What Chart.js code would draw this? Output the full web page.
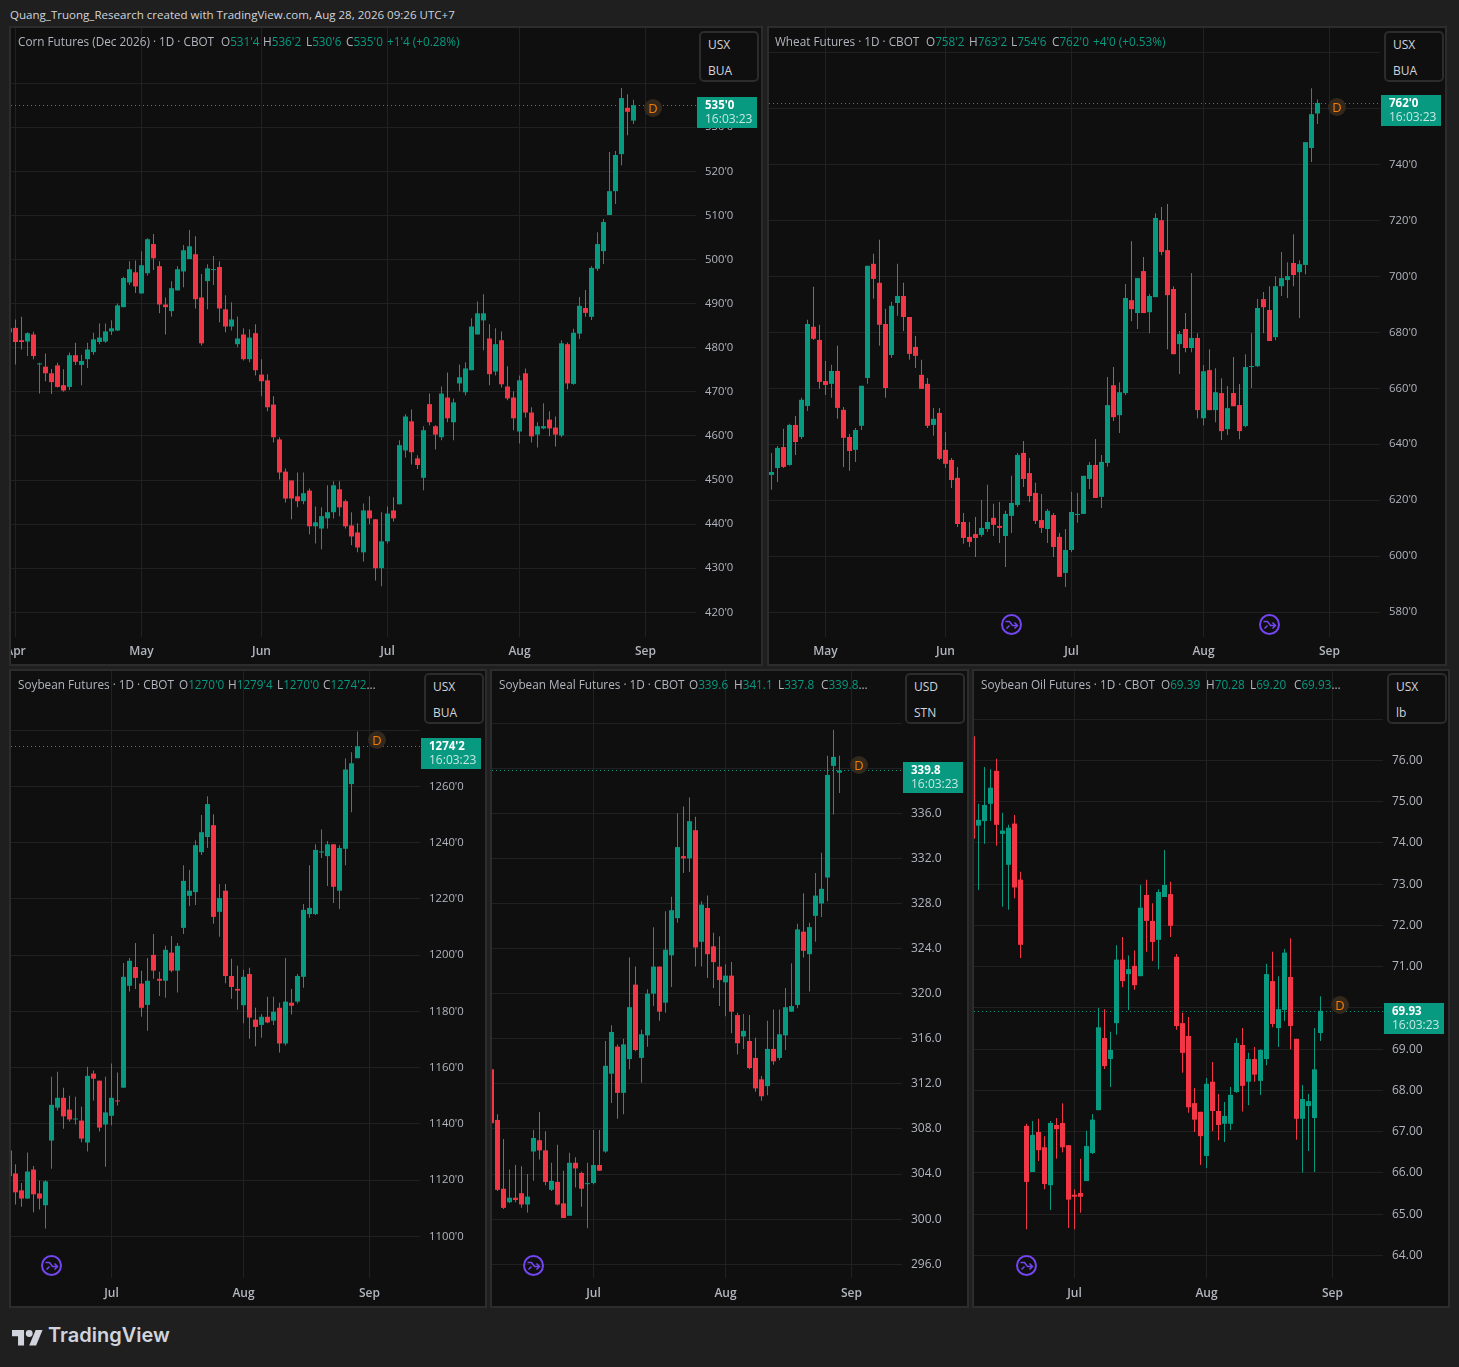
<!DOCTYPE html>
<html>
<head>
<meta charset="utf-8">
<title>Grain futures</title>
<script src="https://cdn.jsdelivr.net/npm/chart.js@4/dist/chart.umd.min.js"></script>
<style>
html, body { margin: 0; padding: 0; background: #1f1f1f; }
body { width: 1459px; height: 1367px; position: relative; overflow: hidden; font-family: "Open Sans", sans-serif; }
.head { position: absolute; left: 10px; top: 7px; font-size: 11.55px; color: #d1d4dc; white-space: nowrap; }
.panel { position: absolute; background: #0f0f0f; outline: 2px solid #2c2c2c; outline-offset: -1px; }
canvas { position: absolute; display: block; }
.legend { position: absolute; font-size: 11.75px; color: #b2b5be; white-space: nowrap; line-height: 14px; }
.legend b { font-weight: normal; color: #089981; }
.legend span { position: absolute; top: 0; }
.unit { position: absolute; box-sizing: border-box; border: 2px solid #2c2c2c; border-radius: 5px; background: #0f0f0f; color: #d1d4dc; font-size: 12px; }
.unit div { position: absolute; left: 7px; }
.logo { position: absolute; left: 12px; top: 1328px; }
.logotext { position: absolute; left: 48px; top: 1323px; font: 600 20px "Inter", sans-serif; color: #d1d4dc; }
</style>
</head>
<body>
<div class="head">Quang_Truong_Research created with TradingView.com, Aug 28, 2026 09:26 UTC+7</div>
<svg class="logo" width="31" height="18" viewBox="0 0 36 20" fill="#d1d4dc"><path d="M14 20H7V9H0V2h14v18zM28 20h-8l7.5-18h8L28 20z"/><circle cx="20" cy="6" r="4"/></svg>
<div class="logotext">TradingView</div>
<script>
// corn, index 0 is the candle clipped at the left edge
var cornOpen = [483.5,484.5,481.7,481.4,483,476.2,475.7,474.2,476,471.5,471.1,478.3,476.1,477.4,479,481.3,481.4,483.7,483.9,489.2,494.8,497.1,492.3,496.9,503.5,498.5,489.8,488.3,493,497.3,500.1,501.2,491.4,495.1,497.6,498.3,488.7,484.8,480.8,483,477.4,483.3,473.9,472.6,467.1,459.2,451.9,449.9,446.3,445.2,447.6,439.5,439,441.3,442.7,447.9,445.2,439.7,438.1,433.6,443.1,441.1,430,436.1,443.1,444.5,456.7,463.3,454.9,450.5,467.2,462.2,459.7,468.7,463.1,471.9,469.9,474.9,483,486.2,482.1,474.6,481.7,471.2,468.7,461,474.2,465.3,460.3,461.7,463.7,461.9,460.1,480.8,471.8,483.2,489,487,497.9,501.9,510.1,515.5,523.9,534.4,531.5];
var cornHigh = [484.6,486.4,487,483.5,483.6,476.6,478.7,475.2,476.6,475.1,478.9,481.1,478.4,481.1,483.4,485.5,485.5,486.2,490,496.1,499.6,499.8,501.9,504.8,505.8,499.6,491.4,495.1,498.5,503.3,506.7,505.3,496.7,498.9,500.8,499.6,491.9,490.3,487.1,484.4,484.2,485.3,477.4,474,469,459.7,452.6,449.9,451.7,451.7,448.1,444,443.8,448.8,449.7,449.7,445.6,442.7,440.2,444.7,446.3,441.1,442.7,444,446.1,459,464.9,466,455.6,462.2,469.6,462.4,471.2,474.4,468.5,476.2,476.7,486.7,490.5,492.1,485.3,484.4,483.7,475.8,470.1,473.7,475.3,466.5,463.1,467.4,465.6,464.4,481.7,481.2,484.3,491.5,493.1,498.5,506.2,509.2,524.4,524.6,538.9,537.5,536.25];
var cornLow = [483.3,476.2,479.6,478.1,477.4,469.6,472.4,469.5,471,470,470.4,476.1,471.5,475.4,478.4,480.8,481.1,482.9,483.8,489.2,494.2,492.4,492.3,496.4,497.6,487.8,483,487.1,493,493.7,500.1,488.9,480.5,488.7,494.2,485.8,483.5,483.9,480.1,477.1,476.7,473.7,469,465.6,458.5,450.1,444.9,441.1,443.8,444.5,437.7,435.6,434.3,439,441.3,441.8,439,435.2,433.6,431.5,440,427.2,425.9,435.6,440.6,444.5,455.1,453.5,452.5,447.7,462.4,456.9,459,463.1,459,470.1,469.2,474.9,483,479.4,471.5,473.7,471,468.1,461.3,458.3,464.2,458.5,457.4,461.5,459.9,457.6,459.7,470.6,471.6,482,487,486.3,497.4,499,510.1,512.6,521.4,528.2,530.75];
var cornClose = [484.4,481.3,481.3,483.3,478.1,476.3,474.2,472.2,471.1,470.3,478.3,476.8,477,479.6,481.9,482.3,483.7,484.4,489.6,495.8,497.8,493.9,498.7,504.6,500.3,489.8,489.2,493.5,497.8,502.1,503,491,481,498,497.8,488.9,484.8,486.4,482.1,477.4,482.3,474.9,472.4,466.5,459.7,451.7,445.8,445.8,445.2,447,439.5,440.4,441.8,442.7,448.8,443.8,439.5,437.2,434.7,443.1,441.3,430,436.1,442.4,441.3,457.9,464.4,456.3,453.4,461.3,463.1,460.3,469.6,464,467.6,473.3,475.3,484.8,487.8,487.8,474,480.8,471.7,468.5,464,472.6,465.3,459.9,462.2,462.2,461.7,460.3,481,471.9,483.4,489.5,487.9,498.1,503.5,508.5,515.5,523.7,536.6,533.5,535];
var cornMonthIdx = [1,22,42,63,85,106];
var cornMonths = ["Apr","May","Jun","Jul","Aug","Sep"];
var cornTicks = [420,430,440,450,460,470,480,490,500,510,520,530,540];
var cornTickLabels = ["420'0","430'0","440'0","450'0","460'0","470'0","480'0","490'0","500'0","510'0","520'0","530'0",""];

// wheat
var wheatOpen = [629,631.5,639,632.6,646.9,642.6,653.7,682,677.3,662.6,661.6,666.2,652.3,642.6,638,646.6,663.7,704.5,697.7,683,671.9,690.5,693,685.5,674.8,664.8,661.6,646.9,651.2,638,634.4,628,612.2,606.9,607.9,607.6,609.7,613.7,610.8,607.2,614.4,618.3,636.9,629.7,622.6,612.9,609.7,614.7,606.9,594,602.2,614.7,615.1,627.6,632.6,621.2,633.3,661.1,650.4,658.3,691.5,686.9,701.9,687.2,692.6,720.1,709.4,695.5,675.8,681.2,674.4,678,649.3,666.5,652.2,658.3,645.4,658.3,654,646.5,667.6,667.9,691.9,688,678.3,696.5,698.7,704.8,701.5,704.1,745.9,758.25];
var wheatHigh = [636.9,639.4,645.5,647.3,650.1,656.6,684.5,696.3,682.7,669.8,668.4,675.2,653.3,643.7,645.8,660.9,703.8,708.1,713.1,688.4,690.9,704.5,697.7,685.5,678.7,670.2,663.7,653,653,644.4,635.1,631.9,615.4,612.2,614,620.1,625.5,618.7,619.4,616.2,628.7,636.9,641.2,635.1,626.2,622.2,616.9,615.4,608.3,609.7,623,622.6,628.7,633.7,641.9,636.2,664,667.6,662.2,697.3,712.6,699.4,706.9,693.7,722.6,724.8,725.9,696.5,680.5,686.9,701.2,679.7,668.3,674,667.2,663.6,660.8,671.2,661.5,672.2,679.7,691.9,694.4,696.5,700.1,708.7,705.1,715.1,705.8,748,767.3,763.25];
var wheatLow = [623.7,626.5,631.5,632.3,636.2,641.9,651.9,677.3,659.8,657.6,656.6,649.1,631.9,630.5,633.7,645.1,661.6,692,675.2,656.6,670.9,685.9,680.5,670.2,667.3,659.8,645.8,643,634.4,631.5,624.4,610.4,604.4,603.3,599.7,606.9,608.7,607.2,604.7,596.1,608.3,617.6,624.7,619.4,611.5,608.3,604.7,599.7,592.6,589,601.5,611.9,615.1,624,620.8,617.2,632,648.3,644,657.6,684,681.2,686.9,679.7,692.6,707.6,674,672.2,665.1,672.9,672.9,649.3,646.8,652.2,647.9,641.5,643.3,653.6,641.8,646.1,660.1,667.6,679.7,676.9,677.2,693,692.3,696.5,685.1,700.8,740.9,754.5];
var wheatClose = [630.1,638.7,631.9,646.9,640.8,655.9,683,677.7,662.3,661.2,666.2,653,642.3,637.6,645.1,660.9,703.8,699.1,682.7,660.1,689.5,693,685.5,672.3,671.6,659.8,646.6,649.1,634.8,633,627.2,611.5,606.5,605.1,606.5,610.1,612.2,611.2,610.1,615.1,619,636.2,627.6,621.5,612.6,610.1,616.2,603.3,592.6,602.2,615.8,615.1,628.7,632.6,620.8,633.7,654,649.7,658.6,692.3,688.3,699.4,686.9,693,720.9,708.7,693.3,672.2,679.4,674.4,678,652.2,666.1,652.2,658.6,644.7,652.9,653.6,644.7,667.6,667.9,688.7,689,676.9,696.5,699.4,700.1,700.5,704.4,748,758,762];
var wheatMonthIdx = [9,29,50,72,93];
var wheatMonths = ["May","Jun","Jul","Aug","Sep"];
var wheatTicks = [580,600,620,640,660,680,700,720,740,760,780];
var wheatTickLabels = ["580'0","600'0","620'0","640'0","660'0","680'0","700'0","720'0","740'0","760'0",""];

// soybean
var soyOpen = [1130.6,1122.4,1116.4,1113.5,1123.8,1115.3,1111.1,1134.1,1145.8,1149.3,1145.1,1141.6,1141.2,1133.4,1157.9,1155.4,1139.8,1142.9,1148.3,1152.9,1189.1,1195.8,1189.9,1182.3,1200.1,1191.6,1190.9,1200.9,1194.5,1209.7,1221.1,1222.4,1236.6,1242,1246.2,1215.4,1222.9,1192.6,1188,1182.2,1193.3,1177.1,1175.2,1178.1,1176.7,1181.3,1168.6,1183.1,1183.5,1192.3,1214.6,1214.6,1236.5,1235.2,1239.4,1222.9,1237.8,1260.8,1270];
var soyHigh = [1131,1125.7,1119,1129.9,1125.1,1119.9,1120,1156.8,1158.6,1152.9,1150,1149.7,1146.1,1160.3,1159,1155.4,1156.8,1161.5,1158.3,1197.2,1199,1204.3,1194.5,1199,1207.5,1194.1,1203.3,1206.8,1204.3,1232,1230.3,1240.8,1249.8,1256.5,1250.1,1225.3,1225.3,1198.7,1196.2,1194.8,1195.5,1181.3,1179.1,1185.2,1185.2,1183.1,1199,1188,1193.3,1218.2,1232,1239.4,1244.7,1240.6,1239.4,1239.1,1269.9,1272.1,1279.5];
var soyLow = [1121,1111.4,1110.6,1113.3,1108.6,1109.6,1102.8,1124.1,1144.8,1138.3,1140.9,1139.8,1133.5,1130.2,1148.3,1137.3,1124.8,1139.5,1146.6,1152.9,1187.1,1188,1178.1,1173.1,1191.6,1185.5,1184.9,1193.9,1186.7,1207.5,1217.5,1217.8,1235.6,1238.1,1211.2,1206.5,1190,1184.5,1180.6,1175.8,1170.3,1167.6,1170.6,1175.8,1175.2,1165.4,1167.9,1178.9,1182.8,1188.4,1213.3,1214.3,1234.5,1224.6,1218.5,1216.4,1232,1250.8,1270];
var soyClose = [1121.5,1115.7,1113.5,1123.1,1115,1113.5,1119.6,1146.8,1149.3,1142.7,1141.6,1141.9,1134.8,1157.1,1156.1,1138.7,1144.1,1149.3,1148,1192.3,1198,1191.9,1181.3,1190.9,1194.5,1190.9,1201.9,1194.5,1203.3,1226.4,1222.9,1239.1,1243.7,1253.7,1213.6,1220.3,1192.6,1188.7,1187.4,1192.3,1177.8,1174.5,1178.1,1176.1,1179.9,1168.6,1183.5,1182,1192.6,1216.1,1216.8,1237.4,1236.6,1239.4,1224.3,1238.1,1266,1268.2,1274.25];
var soyTicks = [1100,1120,1140,1160,1180,1200,1220,1240,1260,1280];
var soyTickLabels = ["1100'0","1120'0","1140'0","1160'0","1180'0","1200'0","1220'0","1240'0","1260'0",""];

// soybean meal
var mealOpen = [313.3,308.8,302.7,301.5,301.9,302.3,301.3,306,307,306.1,302.6,303.3,301.4,300.3,305,304.1,303.1,303.2,304.8,306,312.9,315.3,311.2,314.2,320.8,314.3,316.3,320,322.4,319.2,323.4,326.7,332.2,332,334.5,324.6,327.6,324.2,322.4,321,321.6,318.1,316.2,315.8,314.3,312.4,311.8,315.1,314.3,316.3,318.4,319,325.5,323.5,326.9,328,330.3,340.2,339.6];
var mealHigh = [315.1,309.3,307.1,304.4,304.8,304.7,304,307.9,309.5,307.8,305,306.6,304.3,305.9,305.5,304.2,305,307.9,307.9,315.8,317.2,315.5,316,323.2,322.4,316.8,320.4,325.9,322.4,327.3,328.6,336,336.6,337.4,335.7,328.2,328.7,325.4,325.1,322.6,322.8,318.3,318.2,318.1,316.1,312.7,317.6,318.6,318.6,320.5,322.7,326.2,328.9,326.3,330.7,332.5,341.1,343.4,341.1];
var mealLow = [307.8,302.5,300.9,301.4,301.5,301,300.6,303.4,305.3,303,302.5,301.2,300.1,300.3,302.8,301.1,299.2,303.1,304.3,305.9,310.3,308.9,309.3,313.3,314.9,312.1,315.3,318.9,317.6,318.3,320.6,326.3,330.7,330.8,322.4,322.4,321.4,320.5,318.9,318,316.5,314.6,315.1,313.3,311.3,310.5,311,313.7,314.1,315,318.4,318.7,323.2,320.2,324.6,326.8,328.2,335.9,337.8];
var mealClose = [308.5,302.6,301,301.9,301.7,301.3,302,307.2,306.1,303.3,303.4,301.3,300.1,305,304.5,302.7,303.2,304.8,304.3,313.6,316.6,311.2,315.5,318.8,315,316.4,320,322.4,318.4,323.9,327.4,333,332,335.3,324.1,327.9,323.5,322.8,321.2,321.6,318.4,315.6,316.7,313.4,311.6,310.9,315.1,314,316.4,318.8,318.9,325.7,323.8,325.9,328.7,329.3,339.4,341,339.8];
var mealTicks = [296,300,304,308,312,316,320,324,328,332,336,340,344];
var mealTickLabels = ["296.0","300.0","304.0","308.0","312.0","316.0","320.0","324.0","328.0","332.0","336.0","",""];

// soybean oil
var oilOpen = [76.59,74.42,74.53,74.95,75.75,74.22,73.47,74.47,73.11,67.14,66.02,66.99,66.62,65.7,67.16,67.21,66.67,65.47,65.51,65.8,66.48,67.52,69.27,68.76,69.63,71.17,70.82,71.02,70.77,72.74,72.11,71.65,72.69,72.76,71.24,69.63,69.32,67.69,67.48,66.41,68.21,67.5,67.19,67.19,67.96,69.1,68.21,68.76,68.23,68.76,70.65,69.51,69.95,70.75,69.25,67.31,67.62,67.33,69.39];
var oilHigh = [76.6,74.95,75.84,75.79,76.04,74.73,74.44,74.68,73.3,67.19,67.26,67.31,66.89,67.26,67.33,67.69,66.67,65.6,66.34,67.02,67.43,70,69.97,69.42,71.52,71.72,71.27,71.39,72.98,73.11,72.54,72.88,73.83,73.06,71.31,69.88,69.78,68.06,67.48,68.3,68.69,67.91,67.72,68.08,69.27,69.51,68.91,69.05,69,71.07,71.36,70.77,71.43,71.69,69.25,68.13,67.91,69.51,70.28];
var oilLow = [74.1,72.86,73.98,74.53,73.93,72.45,72.38,72.66,71.21,64.63,66.02,66.29,65.6,65.1,66.34,66.5,64.66,64.63,65.03,65.8,66.46,67.52,68.52,68.08,69.35,70.5,69.95,70.44,70.77,71.36,71.14,70.94,72.69,71.72,69.47,68.43,67.46,66.99,66.19,66.12,67.01,66.79,66.75,67.04,67.94,67.49,67.64,68.21,67.89,68.61,69.53,69.05,69.68,69,66.8,66.01,66.53,66.02,69.2];
var oilClose = [74.1,74.56,74.92,75.34,74.44,74.3,74.37,72.92,71.53,65.78,66.92,66.55,65.73,67.21,67.06,66.62,65.35,65.42,65.42,66.65,67.29,69.53,68.59,68.98,71.17,70.65,70.94,70.55,72.43,72.11,71.6,72.81,72.98,71.99,69.56,68.91,67.59,67.29,66.89,68.16,67.5,67.16,67.38,67.89,69.15,68.11,68.76,68.38,68.98,70.82,69.61,69.97,71.34,69.56,67.31,67.79,67.74,68.51,69.93];
var oilTicks = [64,65,66,67,68,69,70,71,72,73,74,75,76,77];
var oilTickLabels = ["64.00","65.00","66.00","67.00","68.00","69.00","","71.00","72.00","73.00","74.00","75.00","76.00",""];

// bottom row shares the same calendar
var lowerMonthIdx = [17,39,60];
var lowerMonths = ["Jul","Aug","Sep"];

var UP = "#089981", DOWN = "#f23645", GRID = "#212121", AXIS = "#b2b5be";
var FONT = "Open Sans";

var panels = [
  { box: [10, 27, 752, 638], plotRight: 696, plotBottom: 637, c0: 9.5, yMin: 414.4, yMax: 552.5, tickSize: 11.3, xPad: 7,
    o: cornOpen, h: cornHigh, l: cornLow, c: cornClose, months: cornMonths, monthIdx: cornMonthIdx, ticks: cornTicks, tickLabels: cornTickLabels,
    last: "535'0", dY: 3, icons: [], units: ["USX", "BUA"], unitX: 699, unitY: 31,
    legend: [[18, "Corn Futures (Dec 2026) · 1D · CBOT"], [221, "O", "531'4"], [263, "H", "536'2"], [306, "L", "530'6"], [346, "C", "535'0"], [387, "", "+1'4 (+0.28%)"]] },
  { box: [768, 27, 678, 638], plotRight: 1380, plotBottom: 637, c0: 771.5, yMin: 571.1, yMax: 788.8, tickSize: 11.3, xPad: 7,
    o: wheatOpen, h: wheatHigh, l: wheatLow, c: wheatClose, months: wheatMonths, monthIdx: wheatMonthIdx, ticks: wheatTicks, tickLabels: wheatTickLabels,
    last: "762'0", dY: 4, icons: [40, 83], units: ["USX", "BUA"], unitX: 1384, unitY: 31,
    legend: [[775, "Wheat Futures · 1D · CBOT"], [926, "O", "758'2"], [969, "H", "763'2"], [1011, "L", "754'6"], [1052, "C", "762'0"], [1093, "", "+4'0 (+0.53%)"]] },
  { box: [10, 670, 476, 637], plotRight: 420, plotBottom: 1278, c0: 9.5, yMin: 1085.25, yMax: 1301, tickSize: 11.3, xPad: 8,
    o: soyOpen, h: soyHigh, l: soyLow, c: soyClose, months: lowerMonths, monthIdx: lowerMonthIdx, ticks: soyTicks, tickLabels: soyTickLabels,
    last: "1274'2", dY: -6, icons: [7], units: ["USX", "BUA"], unitX: 424, unitY: 673,
    legend: [[18, "Soybean Futures · 1D · CBOT"], [179, "O", "1270'0"], [228, "H", "1279'4"], [277, "L", "1270'0"], [323, "C", "1274'2", "…"]] },
  { box: [491, 670, 477, 637], plotRight: 902, plotBottom: 1278, c0: 491.5, yMin: 294.78, yMax: 348.62, tickSize: 12, xPad: 8,
    o: mealOpen, h: mealHigh, l: mealLow, c: mealClose, months: lowerMonths, monthIdx: lowerMonthIdx, ticks: mealTicks, tickLabels: mealTickLabels,
    last: "339.8", dY: -5, icons: [7], units: ["USD", "STN"], unitX: 905, unitY: 673,
    legend: [[499, "Soybean Meal Futures · 1D · CBOT"], [689, "O", "339.6"], [734, "H", "341.1"], [778, "L", "337.8"], [821, "C", "339.8", "…"]] },
  { box: [973, 670, 476, 637], plotRight: 1383, plotBottom: 1278, c0: 972.5, yMin: 63.45, yMax: 78.17, tickSize: 12, xPad: 8,
    o: oilOpen, h: oilHigh, l: oilLow, c: oilClose, months: lowerMonths, monthIdx: lowerMonthIdx, ticks: oilTicks, tickLabels: oilTickLabels,
    last: "69.93", dY: -6, icons: [9], units: ["USX", "lb"], unitX: 1387, unitY: 673,
    legend: [[981, "Soybean Oil Futures · 1D · CBOT"], [1161, "O", "69.39"], [1206, "H", "70.28"], [1250, "L", "69.20"], [1294, "C", "69.93", "…"]] }
];

// last price dots, tag, D badge and the purple session icons
var overlayPlugin = {
  id: "overlay",
  beforeDatasetsDraw: function (chart) {
    var p = chart.options.plugins.overlay.panel;
    var g = chart.ctx, a = chart.chartArea;
    var py = Math.round(chart.scales.y.getPixelForValue(p.c[p.c.length - 1])) + 0.5;
    g.save();
    g.strokeStyle = UP;
    g.lineWidth = 1;
    g.setLineDash([1, 3]);
    g.beginPath();
    g.moveTo(a.left, py);
    g.lineTo(a.right, py);
    g.stroke();
    g.restore();
  },
  afterDraw: function (chart) {
    var p = chart.options.plugins.overlay.panel;
    var g = chart.ctx, x = chart.scales.x, y = chart.scales.y;
    var n = p.c.length - 1;
    var py = Math.round(y.getPixelForValue(p.c[n]));
    var tx = chart.chartArea.right + 1;

    g.save();
    g.fillStyle = UP;
    g.fillRect(tx, py - 8, 60, 31);
    g.textAlign = "left";
    g.textBaseline = "middle";
    g.font = "bold 11.5px '" + FONT + "'";
    g.fillStyle = "#ffffff";
    g.fillText(p.last, tx + 8, py + 1);
    g.font = "12px '" + FONT + "'";
    g.fillStyle = "#c4e8e1";
    g.fillText("16:03:23", tx + 8, py + 15);

    var dx = x.getPixelForValue(n + 3.25), dy = py + p.dY;
    g.beginPath();
    g.arc(dx, dy, 9, 0, Math.PI * 2);
    g.fillStyle = "#33281c";
    g.fill();
    g.fillStyle = "#f57c00";
    g.textAlign = "center";
    g.font = "13px '" + FONT + "'";
    g.fillText("D", dx, dy + 1);

    p.icons.forEach(function (idx) {
      var ix = x.getPixelForValue(idx), iy = chart.chartArea.bottom - 12.5;
      g.strokeStyle = "#7446f2";
      g.lineWidth = 2;
      g.beginPath();
      g.arc(ix, iy, 9.5, 0, Math.PI * 2);
      g.stroke();
      g.lineWidth = 1.5;
      g.beginPath();
      g.moveTo(ix - 6, iy - 3);
      g.lineTo(ix - 2, iy - 3);
      g.lineTo(ix + 1, iy + 1);
      g.lineTo(ix + 6, iy + 1);
      g.moveTo(ix + 3, iy - 2);
      g.lineTo(ix + 6, iy + 1);
      g.lineTo(ix + 3, iy + 4);
      g.moveTo(ix - 5, iy + 4);
      g.lineTo(ix - 2, iy + 1);
      g.stroke();
    });
    g.restore();
  }
};

function buildPanel(p) {
  var div = document.createElement("div");
  div.className = "panel";
  div.style.cssText = "left:" + p.box[0] + "px;top:" + p.box[1] + "px;width:" + p.box[2] + "px;height:" + p.box[3] + "px";
  document.body.appendChild(div);

  var canvas = document.createElement("canvas");
  var left = p.box[0] + 1, top = p.box[1] + 1;
  var w = p.box[2] - 2, h = p.box[3] - 2;
  canvas.width = w;
  canvas.height = h;
  canvas.style.cssText = "left:1px;top:1px;width:" + w + "px;height:" + h + "px";
  div.appendChild(canvas);

  var plotW = p.plotRight - left, plotH = p.plotBottom - top;
  var xMin = (left - p.c0) / 6, xMax = xMin + plotW / 6;

  var wicks = [], bodies = [], colors = [];
  p.o.forEach(function (open, i) {
    wicks.push({ x: i, y: [p.l[i], p.h[i]] });
    bodies.push({ x: i, y: [open, p.c[i]] });
    colors.push(p.c[i] >= open ? UP : DOWN);
  });

  new Chart(canvas, {
    type: "bar",
    plugins: [overlayPlugin],
    data: {
      datasets: [
        { data: wicks, backgroundColor: colors, barThickness: 1, grouped: false, order: 3, inflateAmount: 0 },
        { data: bodies, backgroundColor: colors, barThickness: 5, minBarLength: 1, grouped: false, order: 2, inflateAmount: 0 }
      ]
    },
    options: {
      responsive: false,
      animation: false,
      devicePixelRatio: 1,
      layout: { padding: 0 },
      plugins: { legend: { display: false }, tooltip: { enabled: false }, overlay: { panel: p } },
      scales: {
        x: {
          type: "linear",
          min: xMin,
          max: xMax,
          offset: false,
          grid: { color: GRID, drawTicks: false, offset: false },
          border: { display: false },
          ticks: {
            color: AXIS,
            font: { size: 12, family: FONT, weight: "600" },
            padding: p.xPad,
            autoSkip: false,
            maxRotation: 0,
            callback: function (v) { return p.months[p.monthIdx.indexOf(v)]; }
          },
          afterBuildTicks: function (s) { s.ticks = p.monthIdx.map(function (v) { return { value: v }; }); },
          afterFit: function (s) { s.height = h - plotH; s.paddingLeft = 0; s.paddingRight = 0; }
        },
        y: {
          position: "right",
          min: p.yMin,
          max: p.yMax,
          grid: { color: GRID, drawTicks: false },
          border: { display: false },
          ticks: {
            color: AXIS,
            font: { size: p.tickSize, family: FONT },
            padding: 9,
            autoSkip: false,
            callback: function (v) { return p.tickLabels[p.ticks.indexOf(v)]; }
          },
          afterBuildTicks: function (s) { s.ticks = p.ticks.map(function (v) { return { value: v }; }); },
          afterFit: function (s) { s.width = w - plotW; s.paddingTop = 0; s.paddingBottom = 0; }
        }
      }
    }
  });

  // legend line
  var legend = document.createElement("div");
  legend.className = "legend";
  legend.style.cssText = "left:0;top:" + (top + 6) + "px";
  p.legend.forEach(function (item) {
    var s = document.createElement("span");
    s.style.left = item[0] + "px";
    s.textContent = item[1];
    if (item.length > 2) {
      var b = document.createElement("b");
      b.textContent = item[2];
      s.appendChild(b);
      if (item[3]) s.appendChild(document.createTextNode(item[3]));
    }
    legend.appendChild(s);
  });
  document.body.appendChild(legend);

  // currency / unit box
  var unit = document.createElement("div");
  unit.className = "unit";
  unit.style.cssText = "left:" + p.unitX + "px;top:" + p.unitY + "px;width:60px;height:51px";
  p.units.forEach(function (t, i) {
    var u = document.createElement("div");
    u.textContent = t;
    u.style.top = (3 + i * 26) + "px";
    unit.appendChild(u);
  });
  document.body.appendChild(unit);
}

panels.forEach(buildPanel);
</script>
</body>
</html>
